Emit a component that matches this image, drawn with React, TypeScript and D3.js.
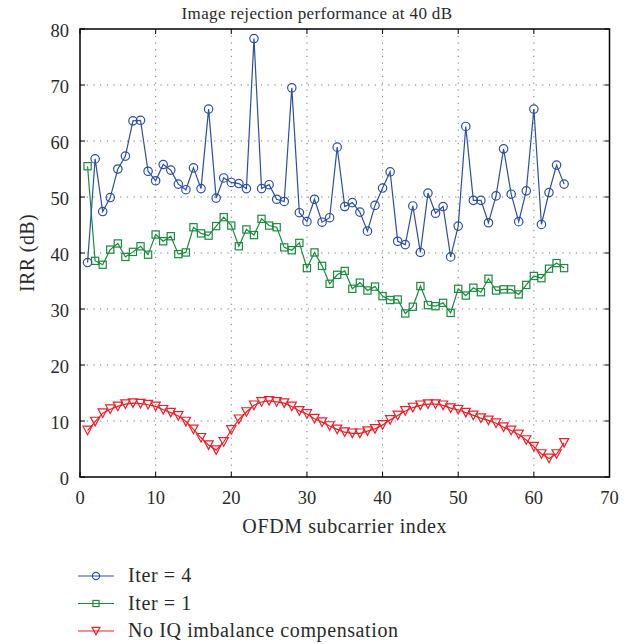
import React from "react";
import * as d3 from "d3";

const subcarriers = d3.range(1, 65);
const iter4 = [38.3,56.8,47.4,49.9,55.0,57.3,63.6,63.7,54.6,52.9,55.8,54.8,52.3,51.3,55.2,51.5,65.7,49.8,53.4,52.6,52.4,51.5,78.3,51.5,52.2,49.6,49.2,69.5,47.2,45.6,49.6,45.5,46.3,58.9,48.3,49.0,47.3,43.9,48.5,51.6,54.5,42.1,41.5,48.4,40.1,50.7,47.1,48.3,39.3,44.8,62.6,49.4,49.4,45.4,50.2,58.6,50.5,45.6,51.1,65.7,45.1,50.8,55.7,52.3];
const iter1 = [55.5,38.6,37.9,40.6,41.7,39.3,40.2,41.2,39.7,43.3,42.1,43.0,39.8,40.1,44.6,43.5,43.1,44.8,46.4,44.9,41.2,44.2,43.2,46.1,44.9,44.6,41.0,40.5,41.8,37.3,40.1,37.7,34.5,36.1,36.8,33.6,34.7,33.3,34.0,32.3,31.6,31.7,29.2,30.4,34.1,30.7,30.5,31.1,29.3,33.6,32.4,33.8,33.0,35.4,33.3,33.5,33.5,32.6,34.3,35.9,35.5,37.2,38.2,37.3];
const noComp = [8.3,9.9,11.4,12.1,12.6,13.0,13.2,13.1,12.9,12.6,12.0,11.5,10.9,9.9,8.5,7.0,5.7,4.8,6.25,8.4,10.3,11.6,12.8,13.4,13.6,13.4,13.2,12.6,11.8,11.25,10.4,9.8,9.1,8.5,8.0,7.8,7.8,8.2,8.6,9.3,10.2,11.0,11.8,12.4,12.8,13.0,13.0,12.8,12.3,12.0,11.5,11.0,10.5,10.1,9.6,8.9,8.3,7.6,6.6,5.4,4.1,3.3,4.1,6.1];
const xTicks = [0, 10, 20, 30, 40, 50, 60, 70];
const yTicks = [0, 10, 20, 30, 40, 50, 60, 70, 80];
const seriesNames = ["Iter = 4", "Iter = 1", "No IQ imbalance compensation"];
const title = "Image rejection performance at 40 dB";
const xLabel = "OFDM subcarrier index";
const yLabel = "IRR (dB)";

const W = 634, H = 644;
const L = 80, R = 609.5, T = 29, B = 477;
const FONT = "'Liberation Serif', 'Times New Roman', serif";
const BLUE = "#2c4fa3", GREEN = "#1b8a3d", RED = "#ec2028";
const TXT = "#2a2a2a";

type Kind = "circle" | "square" | "tri";

function Marker({ x, y, kind, color, s = 1 }: { x: number; y: number; kind: Kind; color: string; s?: number }) {
  if (kind === "circle") return <circle cx={x} cy={y} r={4.2 * s} fill="none" stroke={color} strokeWidth={1.2} />;
  if (kind === "square") { const h = 3.6 * s; return <rect x={x - h} y={y - h} width={2 * h} height={2 * h} fill="none" stroke={color} strokeWidth={1.2} />; }
  const w = 4.6 * s, hh = 4.3 * s;
  return <path d={`M${x - w},${y - hh}L${x + w},${y - hh}L${x},${y + hh}Z`} fill="none" stroke={color} strokeWidth={1.2} />;
}

export default function App() {
  const x = d3.scaleLinear().domain([0, 70]).range([L, R]);
  const y = d3.scaleLinear().domain([0, 80]).range([B, T]);
  const series: { data: number[]; color: string; kind: Kind }[] = [
    { data: iter4, color: BLUE, kind: "circle" },
    { data: iter1, color: GREEN, kind: "square" },
    { data: noComp, color: RED, kind: "tri" },
  ];
  const line = d3.line<number>().x((_, i) => x(subcarriers[i])).y((d) => y(d));
  const drawOrder = [2, 1, 0];
  return (
    <svg width={W} height={H} style={{ position: "absolute", left: 0, top: 0, background: "#fff" }} fontFamily={FONT}>
      <rect x={0} y={0} width={W} height={H} fill="#fff" />
      {xTicks.slice(1, -1).map((t) => (
        <line key={"gx" + t} x1={x(t)} x2={x(t)} y1={T} y2={B} stroke="#777" strokeWidth={1} strokeDasharray="1.2,5.5" />
      ))}
      {yTicks.slice(1, -1).map((t) => (
        <line key={"gy" + t} x1={L} x2={R} y1={y(t)} y2={y(t)} stroke="#777" strokeWidth={1} strokeDasharray="1.2,5.5" />
      ))}
      {xTicks.map((t) => (
        <g key={"tx" + t}>
          <line x1={x(t)} x2={x(t)} y1={B} y2={B - 5} stroke="#000" />
          <line x1={x(t)} x2={x(t)} y1={T} y2={T + 5} stroke="#000" />
          <text x={x(t)} y={B + 27} textAnchor="middle" fontSize={18.5} fill={TXT}>{t}</text>
        </g>
      ))}
      {yTicks.map((t) => (
        <g key={"ty" + t}>
          <line x1={L} x2={L + 5} y1={y(t)} y2={y(t)} stroke="#000" />
          <line x1={R} x2={R - 5} y1={y(t)} y2={y(t)} stroke="#000" />
          <text x={L - 11} y={y(t) + 8} textAnchor="end" fontSize={18.5} fill={TXT}>{t}</text>
        </g>
      ))}
      {drawOrder.map((si) => {
        const s = series[si];
        return (
          <g key={"s" + si}>
            <path d={line(s.data) || ""} fill="none" stroke={s.color} strokeWidth={1.2} />
            {s.data.map((v, i) => (
              <Marker key={i} x={x(subcarriers[i])} y={y(v)} kind={s.kind} color={s.color} />
            ))}
          </g>
        );
      })}
      <rect x={L} y={T} width={R - L} height={B - T} fill="none" stroke="#000" strokeWidth={1.5} />
      <text x={317} y={T - 10} textAnchor="middle" fontSize={17} letterSpacing={0.35} fill={TXT}>{title}</text>
      <text x={(L + R) / 2} y={B + 56} textAnchor="middle" fontSize={20} letterSpacing={0.6} fill={TXT}>{xLabel}</text>
      <text transform={`translate(${L - 46},${(T + B) / 2}) rotate(-90)`} textAnchor="middle" fontSize={20} letterSpacing={0.4} fill={TXT}>{yLabel}</text>
      {series.map((s, i) => {
        const ly = 576 + i * 27.5;
        return (
          <g key={"lg" + i}>
            <line x1={78} x2={114} y1={ly} y2={ly} stroke={s.color} strokeWidth={1.2} />
            <Marker x={96} y={ly} kind={s.kind} color={s.color} s={0.85} />
            <text x={128} y={ly + 6} fontSize={20} letterSpacing={0.6} fill={TXT}>{seriesNames[i]}</text>
          </g>
        );
      })}
    </svg>
  );
}
